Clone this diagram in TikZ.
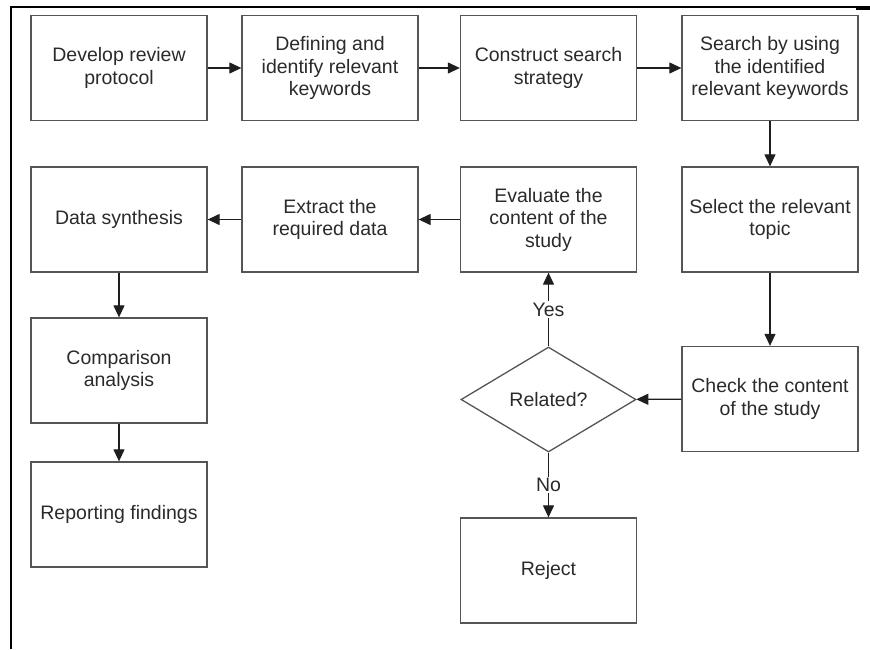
\documentclass[tikz,border=0pt]{standalone}
\usepackage{fontspec}
\setmainfont{Liberation Sans}
\usetikzlibrary{arrows.meta,shapes.geometric}
\definecolor{boxgray}{HTML}{555555}
\definecolor{txtgray}{HTML}{2A2A2A}
\definecolor{arrgray}{HTML}{1E1E1E}
\begin{document}
\begin{tikzpicture}[x=1pt,y=-1pt,
  box/.style={draw=boxgray, line width=1.3pt, minimum width=176pt, minimum height=105pt,
    align=center, inner sep=0pt, text=txtgray, font=\fontsize{19.5}{22.5}\selectfont},
  dec/.style={diamond, draw=boxgray, line width=1.3pt, minimum width=175pt, minimum height=105pt,
    aspect=1.67, inner sep=0pt, text=txtgray, font=\fontsize{19.5}{22.5}\selectfont},
  arr/.style={draw=arrgray, line width=1.2pt, -{Triangle[length=12pt,width=11pt]}},
  lbl/.style={fill=white, text=txtgray, inner sep=1.5pt, font=\fontsize{19.5}{22.5}\selectfont},
  frame/.style={draw=black, line width=2pt}]
\useasboundingbox (0,0) rectangle (870,649);
% frame
\draw[frame] (11,649) -- (11,7) -- (870,7);
\draw[draw=black, line width=3pt] (856,8) -- (870,8);
% row 1
\node[box] (b1) at (119,68) {Develop review\\protocol};
\node[box] (b2) at (330,68) {Defining and\\identify relevant\\keywords};
\node[box] (b3) at (548.5,68) {Construct search\\strategy};
\node[box] (b4) at (770,68) {Search by using\\the identified\\relevant keywords};
% row 2
\node[box] (syn) at (119,219.5) {Data synthesis};
\node[box] (ext) at (330,219.5) {Extract the\\required data};
\node[box] (eva) at (548.5,219.5) {Evaluate the\\content of the\\study};
\node[box] (sel) at (770,219.5) {Select the relevant\\topic};
% lower
\node[box] (cmp) at (119,370.5) {Comparison\\analysis};
\node[box] (rep) at (119,514.5) {Reporting findings};
\node[box] (chk) at (770,399) {Check the content\\of the study};
\node[dec] (rel) at (548.5,399.5) {Related?};
\node[box] (rej) at (548.5,570.5) {Reject};
% connectors
\draw[arr] (b1) -- (b2);
\draw[arr] (b2) -- (b3);
\draw[arr] (b3) -- (b4);
\draw[arr] (b4) -- (sel);
\draw[arr] (sel) -- (chk);
\draw[arr] (chk) -- (rel);
\draw[arr] (rel) -- node[lbl] {Yes} (eva);
\draw[arr] (rel) -- node[lbl] {No} (rej);
\draw[arr] (eva) -- (ext);
\draw[arr] (ext) -- (syn);
\draw[arr] (syn) -- (cmp);
\draw[arr] (cmp) -- (rep);
\end{tikzpicture}
\end{document}
